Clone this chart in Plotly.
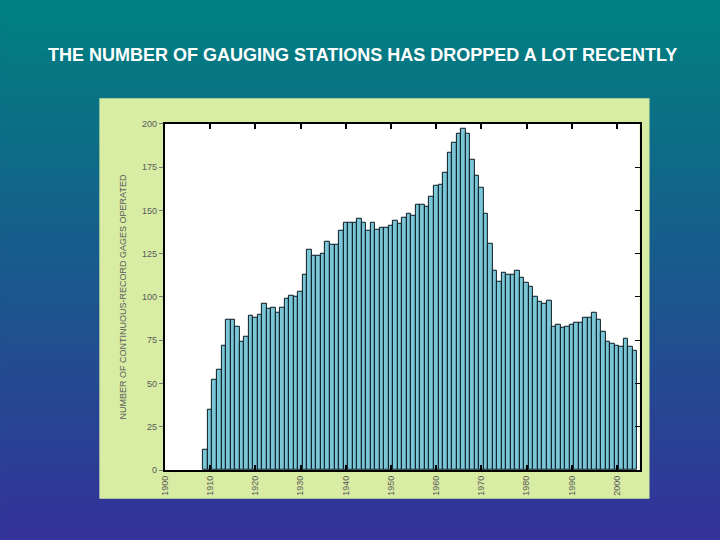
import plotly.graph_objects as go

years = list(range(1909, 2005))
gages = [12, 35, 52, 58, 72, 87, 87, 83, 74, 77,
         89, 88, 90, 96, 93, 94, 91, 94, 99, 101,
         100, 103, 113, 127, 124, 124, 125, 132, 130, 130,
         138, 143, 143, 143, 145, 143, 138, 143, 139, 140,
         140, 141, 144, 142, 146, 148, 147, 153, 153, 152,
         158, 164, 165, 172, 183, 189, 194, 197, 194, 179,
         170, 163, 148, 131, 115, 109, 114, 113, 113, 115,
         111, 108, 106, 100, 97, 96, 98, 83, 84, 82,
         83, 84, 85, 85, 88, 88, 91, 87, 80, 74,
         73, 72, 71, 76, 71, 69]
x_ticks = list(range(1900, 2001, 10))
y_ticks = list(range(0, 201, 25))

title_text = "THE NUMBER OF GAUGING STATIONS HAS DROPPED A LOT RECENTLY"
y_title = "NUMBER OF CONTINUOUS-RECORD GAGES OPERATED"

W, H = 720, 540
top_rgb = (0, 128, 128)
bot_rgb = (51, 51, 153)

shapes = []
n = 90
for i in range(n):
    t = i / (n - 1)
    c = tuple(round(top_rgb[k] + (bot_rgb[k] - top_rgb[k]) * t) for k in range(3))
    y1 = 1 - i / n
    y0 = 1 - (i + 1) / n - 0.002
    shapes.append(dict(type="rect", xref="paper", yref="paper", x0=0, x1=1,
                       y0=max(y0, 0), y1=y1, fillcolor="rgb(%d,%d,%d)" % c,
                       line=dict(width=0), layer="below"))
# light green panel
shapes.append(dict(type="rect", xref="paper", yref="paper",
                   x0=95 / W, x1=649 / W, y0=1 - 503 / H, y1=1 - 95 / H,
                   fillcolor="#d8eca3", line=dict(width=0), layer="below"))
# white plot area
px0, px1 = 161 / W, 639 / W
py0, py1 = 1 - 474 / H, 1 - 121 / H
shapes.append(dict(type="rect", xref="paper", yref="paper",
                   x0=px0, x1=px1, y0=py0, y1=py1,
                   fillcolor="white", line=dict(width=0), layer="below"))

fig = go.Figure()
fig.add_trace(go.Bar(x=years, y=gages, width=1.0,
                     marker=dict(color="#7ac5d6", line=dict(color="#0a1a22", width=1)),
                     hoverinfo="x+y", showlegend=False))

tick_font = dict(family="Liberation Sans Narrow, Arial Narrow, Liberation Sans, Arial",
                 size=9, color="#5a5a5a")

fig.update_layout(
    width=W, height=H,
    margin=dict(l=0, r=0, t=0, b=0),
    paper_bgcolor="rgba(0,0,0,0)",
    plot_bgcolor="rgba(0,0,0,0)",
    shapes=shapes,
    bargap=0,
    xaxis=dict(domain=[px0, px1], range=[1900, 2005], tickvals=x_ticks,
               ticktext=[str(v) for v in x_ticks], tickangle=-90,
               ticks="inside", ticklen=5, tickwidth=2, tickcolor="black",
               showline=True, linecolor="black", linewidth=2,
               showgrid=False, zeroline=False, tickfont=tick_font, anchor="y"),
    yaxis=dict(domain=[py0, py1], range=[0, 200], tickvals=y_ticks,
               ticks="outside", ticklen=4, tickwidth=1, tickcolor="#7a7a7a",
               showline=True, linecolor="black", linewidth=2,
               showgrid=False, zeroline=False, tickfont=tick_font, anchor="x",
               title=dict(text=y_title, standoff=14,
                          font=dict(family="Liberation Sans Narrow, Arial Narrow, Liberation Sans, Arial",
                                    size=9, color="#5a5a5a"))),
    xaxis2=dict(overlaying="x", side="top", anchor="y", range=[1900, 2005],
                tickvals=x_ticks, showticklabels=False, ticks="inside", ticklen=5,
                tickwidth=2, tickcolor="black", showline=True, linecolor="black",
                linewidth=2, showgrid=False, zeroline=False),
    yaxis2=dict(overlaying="y", side="right", anchor="x", range=[0, 200],
                tickvals=y_ticks, showticklabels=False, ticks="inside", ticklen=5,
                tickwidth=1, tickcolor="black", showline=True, linecolor="black",
                linewidth=2, showgrid=False, zeroline=False),
    annotations=[dict(text="<b>%s</b>" % title_text, xref="paper", yref="paper",
                      x=359.5 / W, y=1 - 51 / H, xanchor="center", yanchor="middle",
                      showarrow=False,
                      font=dict(family="Liberation Sans, Arial", size=18, color="white"))],
)
fig.add_trace(go.Scatter(x=[1900], y=[0], xaxis="x2", yaxis="y2", mode="markers",
                         marker=dict(opacity=0), hoverinfo="skip", showlegend=False))

grad_css = "linear-gradient(to bottom, rgb(%d,%d,%d), rgb(%d,%d,%d))" % (top_rgb + bot_rgb)
fig.write_html("out.html",
               config={"displayModeBar": False},
               post_script="document.documentElement.style.margin='0';"
                           "document.body.style.margin='0';document.body.style.padding='0';"
                           "document.documentElement.style.overflow='hidden';"
                           "document.body.style.overflow='hidden';"
                           "document.documentElement.style.background='%s';"
                           "document.body.style.background='%s';" % (grad_css, grad_css))
